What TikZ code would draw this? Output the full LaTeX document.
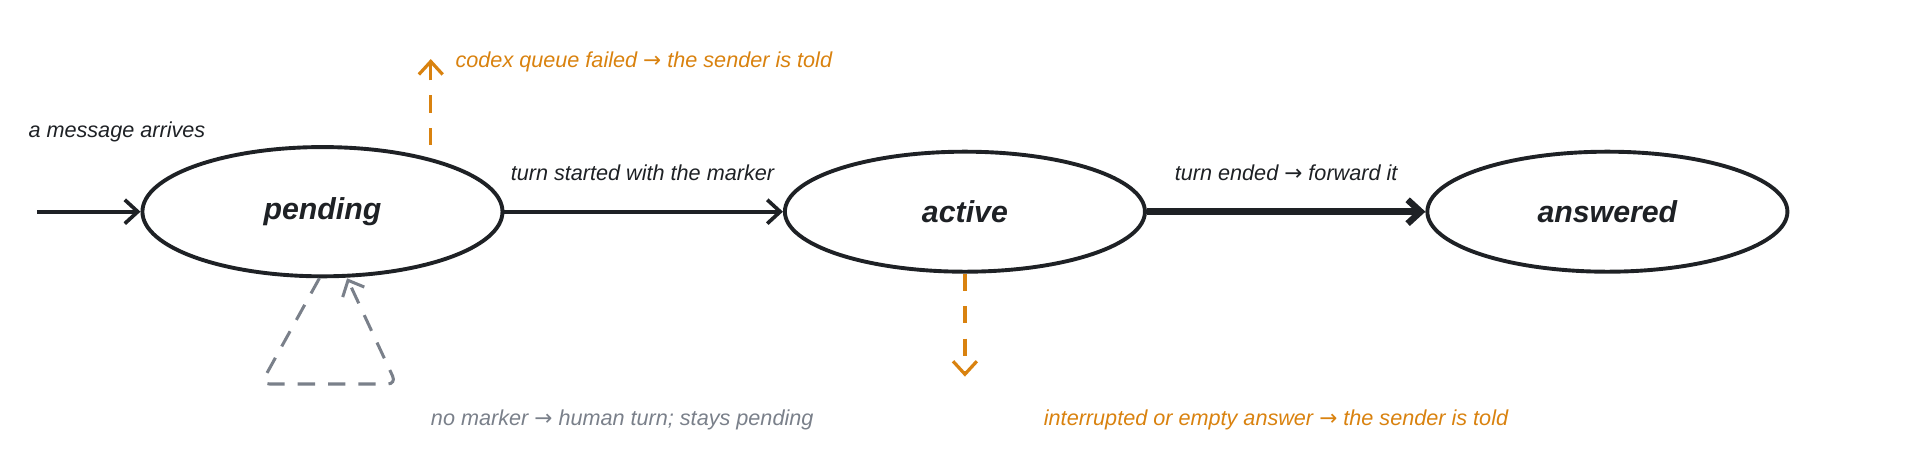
\documentclass[tikz,border=0pt]{standalone}
\usepackage{fontspec}
\setmainfont{Liberation Sans}
\newfontfamily\symfont{DejaVu Sans}
\usetikzlibrary{shapes.geometric}
\usetikzlibrary{arrows.meta}
\definecolor{ink}{HTML}{1E2125}
\definecolor{warn}{HTML}{D9820F}
\definecolor{muted}{HTML}{7A808A}
\newcommand{\toarr}{{\symfont →}}
\begin{document}
\begin{tikzpicture}[
    x=0.04cm, y=-0.04cm,
    state/.style={
        ellipse,
        draw=ink,
        line width=3.6pt,
        minimum width={11.7cm},
        minimum height={3.9cm},
        font=\fontsize{28}{32}\selectfont\bfseries\itshape,
        text=ink
    },
    lbl/.style={
        font=\fontsize{20}{24}\selectfont\itshape,
        text=ink,
        inner sep=0pt
    },
    flow/.style={->, >={Straight Barb[length=12pt,width=22pt]}, draw=ink, line width=3.4pt}
]
\useasboundingbox (0,0) rectangle (1560,374);
\node [state, minimum height={4.2cm}] (pending) at (262,172) {pending};
\node [state] (active) at (784,172) {active};
\node [state] (answered) at (1306,172) {answered};

\coordinate (start) at (30,172);
\coordinate (failfoot) at (350,118);
\coordinate (failed) at (350,48);
\coordinate (dropped) at (784,306);
\coordinate (loopa) at (212,312);
\coordinate (loopb) at (322,312);

\draw[flow] (start) -- (pending.west);
\draw[flow] (pending.east) -- (active.west);
\draw[flow, line width=6pt] (active.east) -- (answered.west);

\draw[flow, draw=warn, line width=3pt, dash pattern=on 16pt off 14pt] (failfoot) -- (failed);
\draw[flow, draw=warn, line width=3pt, dash pattern=on 16pt off 14pt] (active.south) -- (dropped);
\draw[flow, draw=muted, line width=2.8pt, dash pattern=on 16pt off 12pt, rounded corners=8pt]
    ([xshift=-0.1cm]pending.south) -- (loopa) -- (loopb) -- ([xshift=0.8cm]pending.south);

\node [lbl, anchor=west] (arrives) at (23,107) {a message arrives};
\node [lbl] (started) at (522,140) {turn started with the marker};
\node [lbl] (ended) at (1045,140) {turn ended \toarr{} forward it};
\node [lbl, anchor=west, text=warn] (told1) at (370,50) {codex queue failed \toarr{} the sender is told};
\node [lbl, anchor=west, text=warn] (told2) at (848,341) {interrupted or empty answer \toarr{} the sender is told};
\node [lbl, anchor=west, text=muted] (human) at (350,341) {no marker \toarr{} human turn; stays pending};
\end{tikzpicture}
\end{document}
